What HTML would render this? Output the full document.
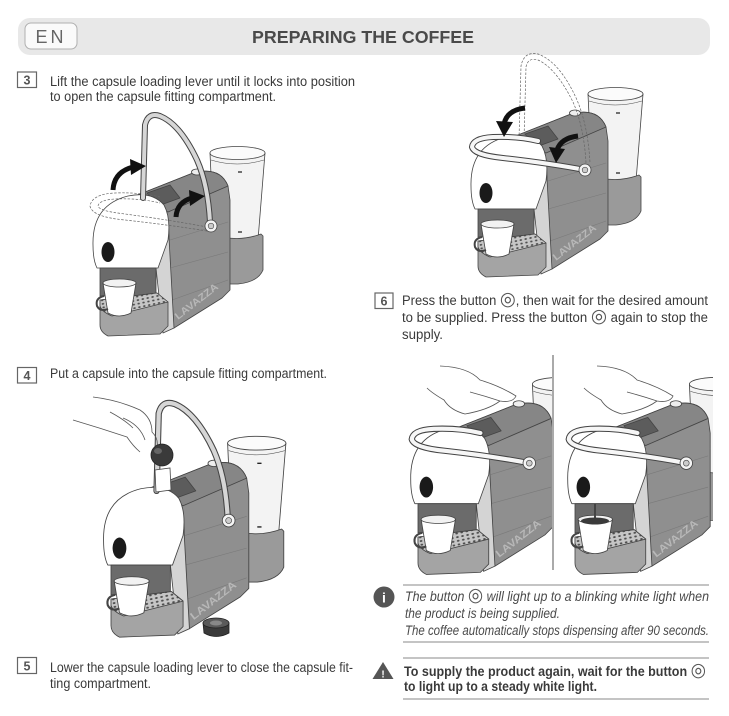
<!DOCTYPE html>
<html><head><meta charset="utf-8"><style>
html,body{margin:0;padding:0;background:#fff;}
svg{display:block;}
text{font-family:"Liberation Sans","DejaVu Sans",sans-serif;}
.ic{font-family:"DejaVu Sans",sans-serif;font-style:normal;font-weight:normal;}
</style></head><body>
<svg width="729" height="716" viewBox="0 0 729 716" xmlns="http://www.w3.org/2000/svg">
<defs>
<pattern id="dots" width="5" height="3.6" patternUnits="userSpaceOnUse" patternTransform="rotate(-12)">
<rect width="5" height="3.6" fill="#c6c6c6"/><ellipse cx="2.5" cy="1.8" rx="1.3" ry="0.9" fill="#4e4e4e"/></pattern>
<clipPath id="cl"><rect x="395" y="350" width="157" height="232"/></clipPath>
<clipPath id="cr"><rect x="555" y="350" width="158" height="232"/></clipPath>
<g id="mach" stroke="#444" stroke-width="0.8" stroke-linejoin="round">
<path d="M210 153 L214 240 L258 240 L265 153 Z" fill="#f3f3f3"/>
<ellipse cx="237.5" cy="153" rx="27.5" ry="6.5" fill="#fbfbfb"/>
<path d="M211 160 Q237 168 264 160" fill="none" stroke-width="0.5"/>
<path d="M238 172 h4 M238 232 h4" stroke="#222" stroke-width="1.3"/>
<path d="M213 234 Q237 243 261 234 L263 236 L263 270 Q258 282 238 284 L225 284 L225 240 Z" fill="#9a9a9a"/>
<path d="M135 196 L193 173 Q220 166 228 186 L230 200 L230 290 L222 298 L174 328 L165 325 L165 215 Z" fill="#8f8f8f"/>
<path d="M135 196 L193 173 Q220 166 228 186 L168 212 Z" fill="#868686"/>
<path d="M170 240 L228 222 M170 268 L228 252 M172 300 L228 280" stroke="#7a7a7a" stroke-width="0.6"/>
<path d="M147 193 L170 185 L180 198 L158 206 Z" fill="#5c5c5c"/>
<ellipse cx="197" cy="172" rx="5.5" ry="3" fill="#eee"/>
<path d="M150 204 Q170 210 169 238 L174 328 L163 333 L156 268 Z" fill="#d4d4d4"/>
<path d="M93 245 Q92 205 128 196 Q152 191 164 205 Q171 218 168 240 L158 268 L97 268 Q93 260 93 245 Z" fill="#fff"/>
<ellipse cx="108" cy="252" rx="6.5" ry="10" fill="#1a1a1a" stroke="none"/>
<rect x="100" y="268" width="56" height="28" fill="#6b6b6b"/>
<path d="M100 300 L157 293 L168 302 L168 326 L160 334 L108 336 Q100 332 100 325 Z" fill="#a4a4a4"/>
<path d="M100 300 L157 293 L168 302 L112 316 Q102 312 100 306 Z" fill="url(#dots)"/>
<path d="M103 283 L108 313 Q119 319 131 313 L136 283 Z" fill="#fff"/>
<ellipse cx="119.5" cy="283" rx="16.5" ry="4" fill="#f2f2f2"/>
<path d="M104 296 Q95 298 97 306 Q100 312 108 309" fill="none" stroke-width="2"/>
</g>
<g id="lvUp" fill="none" stroke-linecap="round">
<path d="M143 198 L145 125 Q148 112 160 116 Q180 124 197 160 Q208 185 210 222" stroke="#444" stroke-width="6"/>
<path d="M143 198 L145 125 Q148 112 160 116 Q180 124 197 160 Q208 185 210 222" stroke="#d6d6d6" stroke-width="4"/>
<circle cx="211" cy="226" r="6" fill="#f4f4f4" stroke="#444" stroke-width="0.8"/>
<circle cx="211" cy="226" r="2.8" fill="#ccc" stroke="#444" stroke-width="0.6"/>
</g>
<g id="lvDn" fill="none" stroke-linecap="round">
<path d="M207 229 Q170 222 125 217 Q96 214 94 206 Q95 197 115 196 Q140 195 160 200" stroke="#444" stroke-width="6"/>
<path d="M207 229 Q170 222 125 217 Q96 214 94 206 Q95 197 115 196 Q140 195 160 200" stroke="#f6f6f6" stroke-width="4"/>
<circle cx="207" cy="229" r="6" fill="#f4f4f4" stroke="#444" stroke-width="0.8"/>
<circle cx="207" cy="229" r="2.8" fill="#ccc" stroke="#444" stroke-width="0.6"/>
</g>
<g id="lvUpG" fill="none" stroke="#666" stroke-width="0.7" stroke-dasharray="2.5 1.5">
<path d="M141 198 L143 125 Q146 110 160 113 Q182 121 199 159 Q210 185 212 222"/>
<path d="M146 198 L148 126 Q150 116 160 119 Q178 127 195 161 Q206 186 208 222"/>
</g>
<g id="lvDnG" fill="none" stroke="#666" stroke-width="0.7" stroke-dasharray="2.5 1.5">
<path d="M207 231 Q170 225 125 220 Q92 217 90 206 Q92 194 115 193 Q140 192 160 197"/>
<path d="M207 227 Q170 220 125 214 Q99 211 98 206 Q99 200 115 199 Q140 198 160 203"/>
</g>
</defs>

<!-- Header -->
<rect x="18" y="18" width="692" height="37" rx="12" fill="#e8e8e8"/>
<rect x="25" y="23" width="52" height="26" rx="6" fill="#fafafa" stroke="#b0b0b0" stroke-width="1"/>
<text x="51" y="43" font-size="18" fill="#666" text-anchor="middle" letter-spacing="3">EN</text>
<text x="252" y="43" font-size="17.5" font-weight="bold" fill="#4a4a4a" textLength="222" lengthAdjust="spacingAndGlyphs">PREPARING THE COFFEE</text>

<g fill="#3a3a3a" font-size="13.5">
<!-- Step 3 -->
<rect x="17.5" y="72" width="19" height="15.5" fill="none" stroke="#666" stroke-width="1.2"/>
<text x="27" y="84.5" font-size="12.5" font-weight="bold" fill="#555" text-anchor="middle">3</text>
<text x="50" y="86" textLength="305" lengthAdjust="spacingAndGlyphs">Lift the capsule loading lever until it locks into position</text>
<text x="50" y="101" textLength="226" lengthAdjust="spacingAndGlyphs">to open the capsule fitting compartment.</text>
<!-- Step 4 -->
<rect x="17.5" y="367.5" width="19" height="15.5" fill="none" stroke="#666" stroke-width="1.2"/>
<text x="27" y="380" font-size="12.5" font-weight="bold" fill="#555" text-anchor="middle">4</text>
<text x="50" y="378" textLength="277" lengthAdjust="spacingAndGlyphs">Put a capsule into the capsule fitting compartment.</text>
<!-- Step 5 -->
<rect x="17.5" y="657.5" width="19" height="16" fill="none" stroke="#666" stroke-width="1.2"/>
<text x="27" y="670.5" font-size="12.5" font-weight="bold" fill="#555" text-anchor="middle">5</text>
<text x="50" y="672" textLength="303" lengthAdjust="spacingAndGlyphs">Lower the capsule loading lever to close the capsule fit-</text>
<text x="50" y="688" textLength="101" lengthAdjust="spacingAndGlyphs">ting compartment.</text>
<!-- Step 6 -->
<rect x="375" y="293" width="18" height="15.5" fill="none" stroke="#666" stroke-width="1.2"/>
<text x="384" y="305.5" font-size="12.5" font-weight="bold" fill="#555" text-anchor="middle">6</text>
<text x="402" y="305" textLength="306" lengthAdjust="spacingAndGlyphs">Press the button <tspan class="ic" font-size="19" fill="#555">◎</tspan>, then wait for the desired amount</text>
<text x="402" y="322" textLength="306" lengthAdjust="spacingAndGlyphs">to be supplied. Press the button <tspan class="ic" font-size="19" fill="#555">◎</tspan> again to stop the</text>
<text x="402" y="339" textLength="41" lengthAdjust="spacingAndGlyphs">supply.</text>
</g>

<!-- Info -->
<line x1="403" y1="585" x2="709" y2="585" stroke="#888" stroke-width="1"/>
<line x1="403" y1="642" x2="709" y2="642" stroke="#888" stroke-width="1"/>
<circle cx="384" cy="597" r="10.5" fill="#555"/>
<text x="384" y="602.5" font-size="14" font-weight="bold" fill="#fff" text-anchor="middle">i</text>
<g fill="#4a4a4a" font-size="13.5" font-style="italic">
<text x="405" y="601" textLength="304" lengthAdjust="spacingAndGlyphs">The button <tspan class="ic" font-size="19" fill="#555">◎</tspan> will light up to a blinking white light when</text>
<text x="405" y="618" textLength="155" lengthAdjust="spacingAndGlyphs">the product is being supplied.</text>
<text x="405" y="635" textLength="304" lengthAdjust="spacingAndGlyphs">The coffee automatically stops dispensing after 90 seconds.</text>
</g>

<!-- Warning -->
<line x1="403" y1="658" x2="709" y2="658" stroke="#888" stroke-width="1"/>
<line x1="403" y1="699" x2="709" y2="699" stroke="#888" stroke-width="1"/>
<polygon points="383,662 372.5,679 393.5,679" fill="#555"/>
<text x="383" y="677.5" font-size="10" font-weight="bold" fill="#fff" text-anchor="middle">!</text>
<g fill="#3a3a3a" font-size="13.5" font-weight="bold">
<text x="404" y="676" textLength="302" lengthAdjust="spacingAndGlyphs">To supply the product again, wait for the button <tspan class="ic" font-size="19" fill="#555">◎</tspan></text>
<text x="404" y="691" textLength="193" lengthAdjust="spacingAndGlyphs">to light up to a steady white light.</text>
</g>

<!-- Step 3 illustration -->
<g>
<use href="#mach"/>
<text x="178" y="320" transform="rotate(-38 178 320)" font-size="10" font-weight="bold" fill="#b8b8b8" textLength="52" lengthAdjust="spacingAndGlyphs">LAVAZZA</text>
<use href="#lvDnG"/>
<use href="#lvUp"/>
<path d="M113 190 Q114 172 133 167" fill="none" stroke="#111" stroke-width="5"/>
<polygon points="130,159 146,166 131,175" fill="#111"/>
<path d="M176 217 Q177 202 192 198" fill="none" stroke="#111" stroke-width="5"/>
<polygon points="189,190 205,196 190,206" fill="#111"/>
</g>

<!-- Step 4 illustration -->
<g transform="translate(5 281) scale(1.06)">
<use href="#mach"/>
<text x="178" y="320" transform="rotate(-38 178 320)" font-size="10" font-weight="bold" fill="#b8b8b8" textLength="52" lengthAdjust="spacingAndGlyphs">LAVAZZA</text>
<use href="#lvUp"/>
</g>
<path d="M155 470 L170 468 L171 490 L156 492 Z" fill="#fff" stroke="#444" stroke-width="0.8"/>
<path d="M93 397 Q118 400 140 410 Q152 418 152 432 Q160 440 156 450 M73 420 Q100 428 127 437 Q133 446 140 452 M110 412 Q125 420 133 428 M123 418 Q140 425 145 440" fill="none" stroke="#555" stroke-width="0.8"/>
<circle cx="162" cy="455" r="11" fill="#3a3a3a" stroke="#222" stroke-width="0.8"/>
<ellipse cx="158" cy="451" rx="4" ry="3" fill="#666"/>
<path d="M203 623 L204 633 Q216 640 229 633 L229 623 Z" fill="#3a3a3a" stroke="#222" stroke-width="0.8"/>
<ellipse cx="216" cy="623" rx="13" ry="5" fill="#5a5a5a" stroke="#222" stroke-width="0.8"/>
<ellipse cx="216" cy="623" rx="6" ry="2.5" fill="#888"/>

<!-- Step 6 top-right illustration -->
<g transform="translate(378 -59)">
<use href="#mach"/>
<text x="178" y="320" transform="rotate(-38 178 320)" font-size="10" font-weight="bold" fill="#b8b8b8" textLength="52" lengthAdjust="spacingAndGlyphs">LAVAZZA</text>
<use href="#lvUpG"/>
<use href="#lvDn"/>
</g>
<path d="M525 108 Q507 110 504 124" fill="none" stroke="#111" stroke-width="5"/>
<polygon points="496,121 504,137 513,122" fill="#111"/>
<path d="M578 136 Q561 138 557 150" fill="none" stroke="#111" stroke-width="5"/>
<polygon points="549,147 556,163 565,149" fill="#111"/>

<!-- Step 6 panels -->
<line x1="553" y1="355" x2="553" y2="570" stroke="#555" stroke-width="1"/>
<g clip-path="url(#cl)">
<g transform="translate(314 225) scale(1.04)">
<use href="#mach"/>
<text x="178" y="320" transform="rotate(-38 178 320)" font-size="10" font-weight="bold" fill="#b8b8b8" textLength="52" lengthAdjust="spacingAndGlyphs">LAVAZZA</text>
<use href="#lvDn"/>
</g>
<path d="M440 366 Q468 367 480 380 Q500 386 516 396 Q513 403 500 401 Q488 410 465 414 Q450 410 444 400 Q432 393 427 388 M470 392 Q485 396 500 401" fill="none" stroke="#555" stroke-width="0.8"/>
</g>
<g clip-path="url(#cr)">
<g transform="translate(471 225) scale(1.04)">
<use href="#mach"/>
<text x="178" y="320" transform="rotate(-38 178 320)" font-size="10" font-weight="bold" fill="#b8b8b8" textLength="52" lengthAdjust="spacingAndGlyphs">LAVAZZA</text>
<use href="#lvDn"/>
</g>
<path d="M597 366 Q625 367 637 380 Q657 386 673 396 Q670 403 657 401 Q645 410 622 414 Q607 410 601 400 Q589 393 584 388 M627 392 Q642 396 657 401" fill="none" stroke="#555" stroke-width="0.8"/>
<line x1="595" y1="504" x2="595" y2="519" stroke="#444" stroke-width="2"/>
<ellipse cx="595" cy="521" rx="14" ry="3.5" fill="#3a3a3a"/>
</g>
</svg>
</body></html>
